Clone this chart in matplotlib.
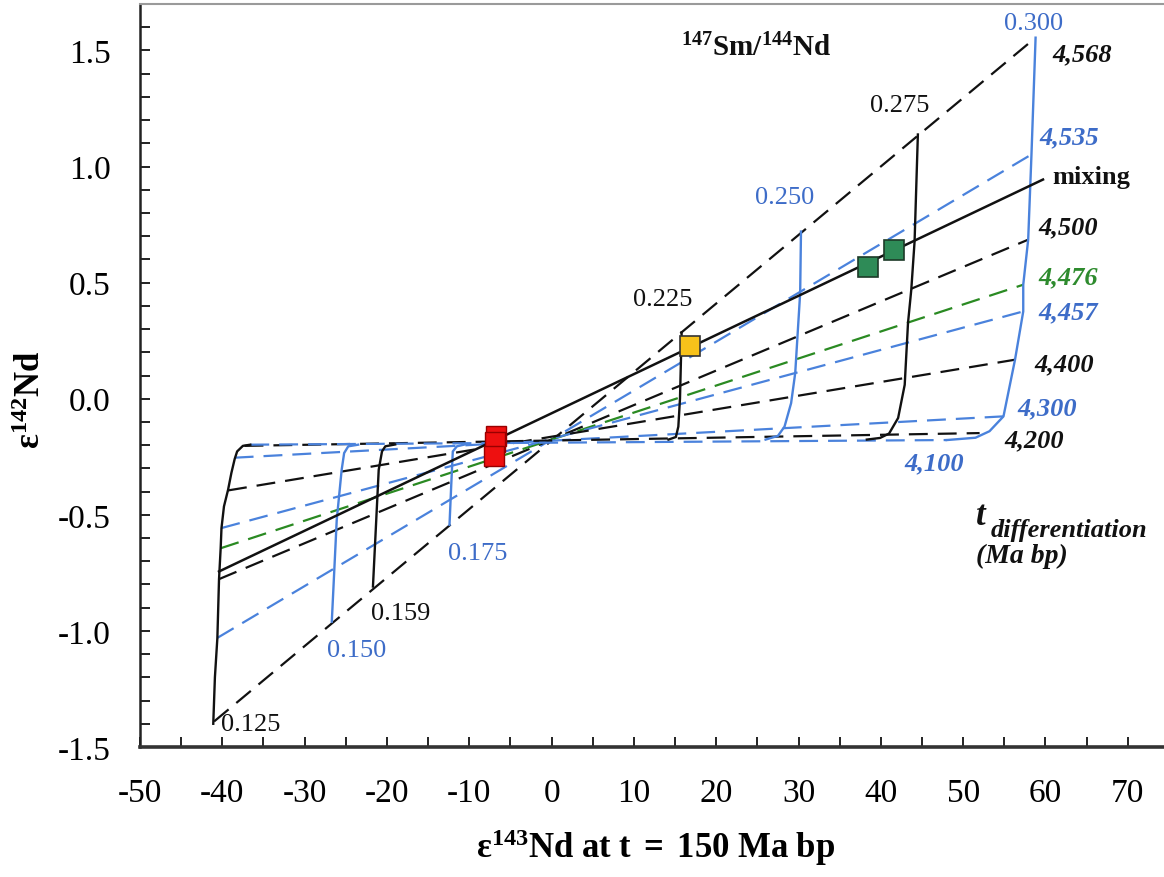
import matplotlib
matplotlib.use('Agg')
import matplotlib.pyplot as plt
from matplotlib.ticker import MultipleLocator, FixedLocator

plt.rcParams['font.family'] = ['Liberation Serif', 'DejaVu Serif']
plt.rcParams['mathtext.fontset'] = 'custom'
plt.rcParams['mathtext.rm'] = 'Liberation Serif'
plt.rcParams['mathtext.bf'] = 'Liberation Serif:bold'
plt.rcParams['mathtext.it'] = 'Liberation Serif:italic'
plt.rcParams['axes.unicode_minus'] = False

# ---- differentiation-age lines (end points on the 0.125 and 0.300 curves)
t_ages = ['4,568', '4,535', '4,500', '4,476', '4,457', '4,400', '4,300', '4,200', '4,100']
t_x_left = [-41.0, -40.6, -40.4, -40.2, -40.1, -39.3, -38.5, -37.3, -36.6]
t_y_left = [-1.39, -1.03, -0.777, -0.644, -0.557, -0.395, -0.254, -0.203, -0.198]
t_x_right = [58.8, 58.3, 57.9, 57.3, 57.3, 56.3, 54.9, 52.0, 48.0]
t_y_right = [1.555, 1.052, 0.685, 0.491, 0.376, 0.168, -0.076, -0.148, -0.178]

# ---- 147Sm/144Nd curves
f_labels = ['0.125', '0.150', '0.159', '0.175', '0.225', '0.250', '0.275', '0.300']
f125_x = [-41.1, -40.9, -40.6, -40.4, -40.2, -40.1, -39.8, -39.3, -38.9, -38.5, -38.2, -37.5, -36.6]
f125_y = [-1.40, -1.20, -1.03, -0.777, -0.644, -0.557, -0.464, -0.392, -0.32, -0.26, -0.227, -0.203, -0.198]
f150_x = [-26.7, -26.1, -25.5, -25.2, -24.7, -23.5]
f150_y = [-0.96, -0.522, -0.306, -0.234, -0.205, -0.198]
f159_x = [-21.7, -21.3, -21.0, -20.6, -20.2, -19.0]
f159_y = [-0.809, -0.522, -0.306, -0.227, -0.205, -0.197]
f175_x = [-12.4, -12.2, -12.0, -11.5, -10.3]
f175_y = [-0.543, -0.38, -0.227, -0.205, -0.195]
f225_x = [15.8, 15.6, 15.4, 15.1, 14.2]
f225_y = [0.286, 0.0, -0.12, -0.165, -0.176]
f250_x = [30.3, 30.2, 29.6, 29.1, 28.3, 27.5, 26.0]
f250_y = [0.72, 0.456, 0.111, -0.019, -0.12, -0.16, -0.176]
f275_x = [44.5, 44.1, 43.7, 43.3, 42.9, 42.1, 41.0, 39.9, 38.3]
f275_y = [1.138, 0.678, 0.47, 0.326, 0.06, -0.083, -0.15, -0.169, -0.176]
f300_x = [58.8, 58.3, 57.9, 57.3, 57.3, 56.3, 54.9, 53.2, 51.5, 48.0]
f300_y = [1.555, 1.052, 0.685, 0.491, 0.376, 0.168, -0.076, -0.14, -0.168, -0.178]

# ---- mixing line
mix_x = [-40.4, 59.7]
mix_y = [-0.744, 0.944]

# ---- samples
red_x = [-6.7, -6.9, -7.0]
red_y = [-0.16, -0.185, -0.245]
yellow_x = [16.8]
yellow_y = [0.229]
green_x = [38.5, 41.6]
green_y = [0.567, 0.640]

BLACK = '#111111'
BLUE = '#4a82dc'
GREEN = '#2a8a22'
BLUE_T = '#3d6cc8'
GREEN_T = '#2e8b2e'
t_colors = [BLACK, BLUE, BLACK, GREEN, BLUE, BLACK, BLUE, BLACK, BLUE]
t_text_colors = [BLACK, BLUE_T, BLACK, GREEN_T, BLUE_T, BLACK, BLUE_T, BLACK, BLUE_T]

fig = plt.figure(figsize=(11.64, 8.78), dpi=100)
ax = fig.add_axes([140 / 1164, 130 / 878, 1024 / 1164, 743 / 878])
ax.set_xlim(-50, 74.4)
ax.set_ylim(-1.5, 1.7)

dash = (0, (8.5, 4.5))
for i in range(len(t_ages)):
    ax.plot([t_x_left[i], t_x_right[i]], [t_y_left[i], t_y_right[i]],
            color=t_colors[i], lw=1.6, linestyle=dash, zorder=2)

curves = [(f125_x, f125_y, BLACK), (f150_x, f150_y, BLUE), (f159_x, f159_y, BLACK),
          (f175_x, f175_y, BLUE), (f225_x, f225_y, BLACK), (f250_x, f250_y, BLUE),
          (f275_x, f275_y, BLACK), (f300_x, f300_y, BLUE)]
for cx, cy, col in curves:
    ax.plot(cx, cy, color=col, lw=1.7, zorder=3, solid_joinstyle='round')

ax.plot(mix_x, mix_y, color=BLACK, lw=1.8, zorder=3)

ms = 15
ax.plot(red_x, red_y, 's', ms=ms, mfc='#ee1010', mec='#990000', mew=1.0, zorder=5)
ax.plot(yellow_x, yellow_y, 's', ms=ms, mfc='#f7c21a', mec='#333333', mew=1.2, zorder=5)
ax.plot(green_x, green_y, 's', ms=ms, mfc='#2e8b57', mec='#1d3a28', mew=1.2, zorder=5)

# ---- curve labels
fl_pos = [(-36.5, -1.40), (-23.7, -1.082), (-18.3, -0.922), (-8.95, -0.664),
          (13.5, 0.431), (28.3, 0.869), (42.3, 1.263), (58.5, 1.619)]
fl_col = [BLACK, BLUE_T, BLACK, BLUE_T, BLACK, BLUE_T, BLACK, BLUE_T]
for lab, (px, py), c in zip(f_labels, fl_pos, fl_col):
    ax.text(px, py, lab, color=c, fontsize=19, ha='center', va='center', zorder=6)

ax.text(24.9, 1.513, r'$\mathbf{{}^{147}Sm/{}^{144}Nd}$', fontsize=21,
        ha='center', va='center', color=BLACK)

# ---- age labels
tl_pos = [(60.8, 1.487), (59.3, 1.129), (59.1, 0.741), (59.1, 0.526), (59.1, 0.373),
          (58.7, 0.151), (56.6, -0.039), (55.0, -0.177), (42.9, -0.276)]
for lab, (px, py), c in zip(t_ages, tl_pos, t_text_colors):
    ax.text(px, py, lab, color=c, fontsize=19, fontweight='bold', style='italic',
            ha='left', va='center', zorder=6)
ax.text(60.8, 0.957, 'mixing', color=BLACK, fontsize=19, fontweight='bold',
        ha='left', va='center')

ax.text(51.6, -0.505, 't', fontsize=25, fontweight='bold', style='italic',
        ha='left', va='center', color=BLACK)
ax.text(53.4, -0.565, 'differentiation', fontsize=19, fontweight='bold', style='italic',
        ha='left', va='center', color=BLACK)
ax.text(51.6, -0.677, '(Ma bp)', fontsize=20, fontweight='bold', style='italic',
        ha='left', va='center', color=BLACK)

# ---- axes styling
ax.spines['right'].set_visible(False)
ax.spines['top'].set_color('#9a9a9a')
ax.spines['top'].set_linewidth(1.5)
ax.spines['left'].set_color('#222222')
ax.spines['left'].set_linewidth(1.8)
ax.spines['bottom'].set_color('#333333')
ax.spines['bottom'].set_linewidth(2.6)

ax.xaxis.set_major_locator(FixedLocator(list(range(-50, 71, 10))))
ax.xaxis.set_minor_locator(MultipleLocator(5))
ax.yaxis.set_major_locator(FixedLocator([-1.5, -1.0, -0.5, 0.0, 0.5, 1.0, 1.5]))
ax.yaxis.set_minor_locator(MultipleLocator(0.1))
ax.set_yticklabels(['-1.5', '-1.0', '-0.5', '0.0', '0.5', '1.0', '1.5'])
ax.set_xticklabels([str(v) for v in range(-50, 71, 10)])
ax.tick_params(which='both', direction='in', top=False, right=False,
               length=7, width=1.4, color='#222222')
ax.tick_params(axis='y', which='major', pad=21, labelsize=24)
ax.tick_params(axis='x', which='major', pad=22, labelsize=24)

fig.text(656 / 1164, 1 - 848 / 878, r'$\mathbf{ε^{143}Nd\ at\ t\ =\ 150\ Ma\ bp}$',
         fontsize=25, ha='center', va='center')
fig.text(32 / 1164, 1 - 400 / 878, r'$\mathbf{ε^{142}Nd}$', fontsize=25,
         rotation=90, ha='center', va='center')

fig.savefig('out.png', dpi=100)
